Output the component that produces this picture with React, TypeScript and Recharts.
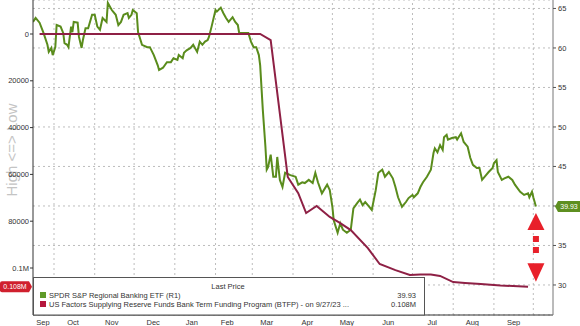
import React from 'react';
import {
  LineChart,
  Line,
  XAxis,
  YAxis,
  CartesianGrid,
  ReferenceLine,
  ReferenceDot,
} from 'recharts';

// ---- Data (x = days since 15 Sep 2022) ----
const greenDays = [
  0, 2, 5, 8, 11, 12, 14, 15, 17, 18, 21, 23, 24, 26, 27, 29, 30, 31, 34, 35, 37, 38, 40, 42, 45, 47, 49, 51,
  53, 56, 57, 60, 61, 63, 65, 67, 69, 72, 73, 75, 76, 79, 80, 83, 87, 89, 92, 95, 96, 99, 102, 105, 107, 110,
  111, 114, 115, 117, 120, 122, 125, 127, 129, 131, 133, 134, 136, 139, 140, 143, 145, 147, 149, 152, 154, 156,
  157, 160, 164, 166, 168, 170, 172, 173, 175, 177, 178, 179, 181, 183, 185, 186, 188, 190, 192, 196, 200, 202,
  205, 207, 210, 213, 215, 217, 220, 224, 226, 228, 229, 232, 234, 236, 239, 242, 244, 247, 249, 251, 253, 255,
  258, 261, 263, 266, 268, 271, 274, 276, 278, 281, 284, 286, 289, 290, 293, 295, 297, 300, 303, 305, 306, 308,
  310, 312, 313, 315, 316, 319, 322, 323, 326, 328, 331, 333, 335, 338, 340, 342, 345, 347, 350, 351, 353, 354,
  357, 359, 362, 365, 367, 371, 374, 377, 378, 380, 381, 383,
];
const greenValues = [
  63.3, 63.8, 63.2, 61.9, 60.4, 59.5, 60.0, 59.1, 60.1, 62.9, 62.7, 61.9, 60.6, 60.4, 60.1, 62.7, 62.0, 63.3,
  63.2, 61.4, 60.0, 61.0, 62.5, 62.5, 64.2, 64.2, 62.7, 62.3, 63.8, 63.3, 65.7, 64.8, 64.6, 64.2, 62.9, 63.3,
  64.2, 64.4, 63.8, 64.2, 64.8, 64.4, 62.0, 60.4, 60.1, 60.1, 59.1, 57.8, 57.2, 57.5, 58.2, 58.2, 58.7, 58.5,
  59.1, 58.7, 59.4, 59.7, 60.0, 60.4, 59.5, 60.8, 60.4, 60.8, 61.0, 61.4, 62.7, 64.8, 64.6, 65.1, 64.4, 63.8,
  63.3, 63.9, 63.3, 62.9, 61.9, 61.9, 61.9, 60.8, 60.1, 60.1, 59.1, 57.8, 52.2, 47.5, 44.6, 44.9, 46.5, 43.7,
  43.7, 46.2, 43.3, 42.4, 44.2, 43.9, 43.7, 42.7, 43.0, 42.9, 43.3, 42.9, 44.2, 43.0, 41.6, 42.7, 42.0, 39.9,
  38.2, 36.6, 37.8, 37.0, 36.6, 37.0, 39.7, 40.4, 40.8, 40.1, 40.5, 40.1, 39.5, 42.0, 44.2, 44.6, 43.7, 44.3,
  43.5, 42.4, 41.1, 39.9, 40.5, 41.0, 41.4, 41.1, 41.6, 42.4, 43.0, 43.7, 44.6, 46.7, 47.3, 46.8, 47.7, 47.1,
  48.7, 49.0, 48.4, 48.6, 48.7, 48.4, 49.2, 48.1, 47.5, 46.1, 45.2, 44.8, 44.8, 43.3, 43.9, 44.3, 44.8, 45.4,
  45.8, 44.3, 43.3, 43.5, 43.7, 43.3, 42.7, 41.8, 41.4, 41.6, 41.1, 41.8, 41.1, 39.93,
];

const redDays = [5, 173, 181, 194, 202, 208, 216, 226, 234, 242, 255, 264, 276, 287, 295, 303, 310, 320, 329, 341, 356, 377];
const redValues = [
  0, 0, 2600, 61100, 68000, 76500, 73500, 78200, 80800, 83800, 91500, 98300, 100900, 103000, 102800, 102800,
  103400, 106000, 106400, 106800, 107500, 108000,
];

const monthLabels = ['Sep', 'Oct', 'Nov', 'Dec', 'Jan', 'Feb', 'Mar', 'Apr', 'May', 'Jun', 'Jul', 'Aug', 'Sep'];
const monthMidDays = [7.6, 30.5, 60, 91.5, 121, 148, 178, 209, 239, 270.5, 304, 334.6, 366];
const monthStartDays = [16, 47, 77, 108, 139, 167, 198, 228, 259, 289, 320, 351, 381];

const leftTicks = [0, 20000, 40000, 60000, 80000, 100000];
const rightTicks = [30, 35, 40, 45, 50, 55, 60, 65];

// arrow annotation (right-axis values)
const arrowUpValue = 38.05;
const arrowDownValue = 31.6;
const arrowDashFrom = 36.2;
const arrowDashTo = 33.9;

const greenName = 'SPDR S&P Regional Banking ETF  (R1)';
const redName = 'US Factors Supplying Reserve Funds Bank Term Funding Program (BTFP) -  on 9/27/23  ...';

const greenData = greenDays.map((d, i) => ({ d, v: greenValues[i] }));
const redData = redDays.map((d, i) => ({ d, v: redValues[i] }));

const GREEN = '#5a8c1c';
const MAROON = '#8e2045';
const ARROW_RED = '#e8202a';
const FONT = '"Liberation Sans", Arial, sans-serif';

const lastGreen = greenValues[greenValues.length - 1];
const lastGreenDay = greenDays[greenDays.length - 1];
const lastRed = redValues[redValues.length - 1];
const lastRedLabel = (lastRed / 1e6).toFixed(3) + 'M';
const lastGreenLabel = lastGreen.toFixed(2);

const X_DOMAIN: [number, number] = [0, 396];

const fmtLeft = (v: number) => (v >= 100000 ? (v / 1e6).toFixed(1) + 'M' : String(v));
// the right-axis label hidden behind the last-price tag is not shown
const fmtRight = (v: number) => (Math.abs(v - lastGreen) < 2.5 ? '' : String(v));

const RedTag = (props: any) => {
  const { cx, cy } = props;
  if (cx == null || cy == null) return null;
  const l = cx - 33;
  const r = cx - 1;
  return (
    <g>
      <path
        d={`M${l + 2},${cy - 5.5} L${r - 3},${cy - 5.5} L${r},${cy} L${r - 3},${cy + 5.5} L${l + 2},${cy + 5.5} Q${l},${cy + 5.5} ${l},${cy + 3.5} L${l},${cy - 3.5} Q${l},${cy - 5.5} ${l + 2},${cy - 5.5} Z`}
        fill="#d0202e"
      />
      <text x={(l + r) / 2 - 1} y={cy + 2.5} textAnchor="middle" fontSize={7} fill="#fff" fontFamily={FONT}>
        {lastRedLabel}
      </text>
    </g>
  );
};

const GreenTag = (props: any) => {
  const { cx, cy } = props;
  if (cx == null || cy == null) return null;
  const l = cx + 2;
  const r = cx + 27;
  return (
    <g>
      <path
        d={`M${l},${cy} L${l + 3},${cy - 5.5} L${r},${cy - 5.5} L${r},${cy + 5.5} L${l + 3},${cy + 5.5} Z`}
        fill="#5e8f20"
      />
      <text x={(l + r) / 2 + 1.5} y={cy + 2.5} textAnchor="middle" fontSize={7} fill="#fff" fontFamily={FONT}>
        {lastGreenLabel}
      </text>
    </g>
  );
};

const UpTri = (props: any) => {
  const { cx, cy } = props;
  if (cx == null || cy == null) return null;
  return <path d={`M${cx},${cy - 8.5} L${cx + 8.5},${cy + 8.5} L${cx - 8.5},${cy + 8.5} Z`} fill={ARROW_RED} />;
};

const DownTri = (props: any) => {
  const { cx, cy } = props;
  if (cx == null || cy == null) return null;
  return <path d={`M${cx - 8.5},${cy - 9} L${cx + 8.5},${cy - 9} L${cx},${cy + 9.5} Z`} fill={ARROW_RED} />;
};

export default function App() {
  return (
    <div
      style={{
        position: 'absolute',
        left: 0,
        top: 0,
        width: 580,
        height: 326,
        background: '#fff',
        overflow: 'hidden',
        fontFamily: FONT,
      }}
    >
      <svg width={580} height={326} style={{ position: 'absolute', left: 0, top: 0 }}>
        <text
          x={0}
          y={0}
          transform="translate(17,150) rotate(-90)"
          textAnchor="middle"
          fontSize={15}
          fill="#c4c4c4"
          fontFamily={FONT}
        >
          {'High <=> Low'}
        </text>
      </svg>
      <div style={{ position: 'absolute', left: 0, top: 0 }}>
        <LineChart width={580} height={326} margin={{ top: 0, right: 0, bottom: 0, left: 0 }}>
          <CartesianGrid yAxisId="right" vertical={false} stroke="#bdbdbd" strokeDasharray="2 3" />
          <XAxis
            type="number"
            dataKey="d"
            domain={X_DOMAIN}
            allowDataOverflow
            ticks={monthMidDays}
            interval={0}
            tickFormatter={(_v: number, i: number) => monthLabels[i]}
            tickLine={false}
            axisLine={{ stroke: '#333' }}
            height={11}
            tickMargin={0}
            tick={{ fontSize: 7.5, fill: '#333', fontFamily: FONT, dy: -1 }}
          />
          <YAxis
            yAxisId="left"
            type="number"
            domain={[-14530, 120085]}
            reversed
            allowDataOverflow
            ticks={leftTicks}
            interval={0}
            tickFormatter={fmtLeft}
            width={33}
            tickSize={3}
            tickMargin={1}
            axisLine={{ stroke: '#333' }}
            tickLine={{ stroke: '#333' }}
            tick={{ fontSize: 7.5, fill: '#333', fontFamily: FONT }}
          />
          <YAxis
            yAxisId="right"
            orientation="right"
            type="number"
            domain={[26.2, 66.07]}
            allowDataOverflow
            ticks={rightTicks}
            interval={0}
            tickFormatter={fmtRight}
            width={27}
            tickSize={3}
            tickMargin={2}
            axisLine={{ stroke: '#777' }}
            tickLine={{ stroke: '#555' }}
            tick={{ fontSize: 7.5, fill: '#333', fontFamily: FONT }}
          />
          {monthStartDays.map((d) => (
            <ReferenceLine key={d} x={d} yAxisId="right" stroke="#bdbdbd" strokeDasharray="2 3" />
          ))}
          <Line
            data={greenData}
            dataKey="v"
            yAxisId="right"
            type="linear"
            stroke={GREEN}
            strokeWidth={2}
            dot={false}
            isAnimationActive={false}
          />
          <Line
            data={redData}
            dataKey="v"
            yAxisId="left"
            type="linear"
            stroke={MAROON}
            strokeWidth={2}
            dot={false}
            isAnimationActive={false}
          />
          <ReferenceLine
            yAxisId="right"
            segment={[
              { x: lastGreenDay, y: arrowDashFrom },
              { x: lastGreenDay, y: arrowDashTo },
            ]}
            stroke={ARROW_RED}
            strokeWidth={6}
            strokeDasharray="6 5"
          />
          <ReferenceDot yAxisId="right" x={lastGreenDay} y={arrowUpValue} ifOverflow="visible" shape={UpTri} />
          <ReferenceDot yAxisId="right" x={lastGreenDay} y={arrowDownValue} ifOverflow="visible" shape={DownTri} />
          <ReferenceDot yAxisId="left" x={X_DOMAIN[0]} y={lastRed} ifOverflow="visible" shape={RedTag} />
          <ReferenceDot yAxisId="right" x={X_DOMAIN[1]} y={lastGreen} ifOverflow="visible" shape={GreenTag} />
        </LineChart>
      </div>
      <svg width={580} height={326} style={{ position: 'absolute', left: 0, top: 0, pointerEvents: 'none' }}>
        <rect x={33.5} y={277.5} width={391} height={37.5} fill="#fff" stroke="#555" strokeWidth={1} />
        <text x={228} y={289} textAnchor="middle" fontSize={7.5} fill="#333" fontFamily={FONT}>
          Last Price
        </text>
        <rect x={40} y={292} width={6} height={6} fill="#5f9a28" />
        <text x={49} y={298} fontSize={7.5} fill="#333" fontFamily={FONT}>
          {greenName}
        </text>
        <text x={416} y={298} textAnchor="end" fontSize={7.5} fill="#333" fontFamily={FONT}>
          {lastGreenLabel}
        </text>
        <rect x={40} y={301} width={6} height={6} fill="#b5163d" />
        <text x={49} y={307} fontSize={7.5} fill="#333" fontFamily={FONT}>
          {redName}
        </text>
        <text x={416} y={307} textAnchor="end" fontSize={7.5} fill="#333" fontFamily={FONT}>
          {lastRedLabel}
        </text>
      </svg>
    </div>
  );
}
